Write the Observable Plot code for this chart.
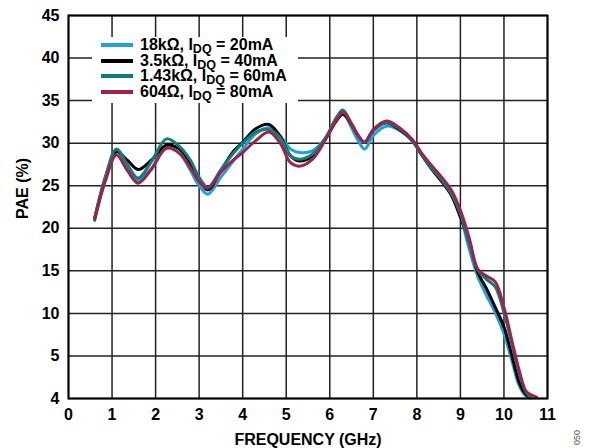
<!DOCTYPE html>
<html><head><meta charset="utf-8">
<script src="https://cdn.jsdelivr.net/npm/d3@7"></script>
<script src="https://cdn.jsdelivr.net/npm/@observablehq/plot@0.6"></script>
<style>
body{margin:0;background:#fff;font-family:"Liberation Sans",Arial,sans-serif;}
#wrap{position:relative;width:595px;height:448px;overflow:hidden;}
#legend{position:absolute;left:92px;top:37px;width:206px;height:66px;background:#fff;}
.row{position:absolute;left:0;height:16px;display:flex;align-items:center;font-weight:bold;font-size:16px;color:#000;white-space:nowrap;}
.sw{display:inline-block;width:32px;height:4px;margin-left:9px;margin-right:7px;}
.row sub{font-size:12.5px;vertical-align:-3px;line-height:0;}
#code{position:absolute;left:572px;top:445px;font-size:9px;color:#555;transform:rotate(-90deg);transform-origin:left top;}
</style>
</head><body>
<div id="wrap"><div id="chart"></div><div id="legend"></div><div id="code">050</div></div>
<script>
const seriesNames = ["18kΩ, I<sub>DQ</sub> = 20mA","3.5kΩ, I<sub>DQ</sub> = 40mA","1.43kΩ, I<sub>DQ</sub> = 60mA","604Ω, I<sub>DQ</sub> = 80mA"];
const seriesColors = ["#1ba1dc","#000000","#0b7f79","#a3204b"];
const xTicks = [0,1,2,3,4,5,6,7,8,9,10,11];
const yTicks = [0,5,10,15,20,25,30,35,40,45];
const yTickLabels = ["4","5","10","15","20","25","30","35","40","45"];
const yTitle = "PAE (%)";
const xTitle = "FREQUENCY (GHz)";
const freq = [0.6,0.85,1.1,1.35,1.6,1.9,2.25,2.55,2.8,3.0,3.2,3.5,3.8,4.0,4.3,4.6,4.85,5.1,5.3,5.6,5.9,6.15,6.3,6.5,6.65,6.8,7.0,7.3,7.6,7.9,8.1,8.35,8.6,8.8,9.0,9.2,9.4,9.6,9.8,10.0,10.2,10.35,10.5,10.6,10.75];
const pae18k = [20.9,25.8,29.2,27.2,25.6,27.0,29.6,28.8,26.8,25.0,24.0,26.0,28.0,29.3,31.1,31.8,30.9,29.3,28.9,29.1,30.6,32.8,33.6,31.8,30.3,29.3,30.9,32.0,31.5,30.2,28.7,26.9,25.5,24.0,21.5,17.6,14.3,12.1,10.1,7.6,4.1,1.5,0.3,0.05,null];
const pae3k5 = [21.1,26.0,29.0,28.0,26.9,28.0,29.8,29.3,27.6,25.8,24.5,26.8,29.1,30.1,31.7,32.2,30.9,28.5,27.9,28.5,30.5,32.6,33.4,32.2,30.9,30.1,31.5,32.4,31.6,30.3,28.7,26.9,25.3,23.8,21.3,18.5,14.8,12.9,10.7,8.4,4.7,1.9,0.5,0.1,null];
const pae1k43 = [21.2,26.1,29.3,27.5,25.9,27.8,30.5,29.6,28.0,26.0,24.8,26.9,28.9,30.0,31.3,31.6,30.7,28.5,28.1,28.7,30.6,33.0,33.9,32.3,30.9,30.1,31.5,32.4,31.7,30.3,28.7,27.0,25.5,24.0,21.7,18.2,15.1,14.0,13.1,10.1,6.0,3.0,0.8,0.2,null];
const pae604 = [21.1,25.6,28.6,26.8,25.3,26.9,29.4,28.8,27.1,25.5,24.7,26.6,28.1,28.9,30.3,31.3,30.1,27.7,27.3,28.1,30.4,32.7,33.6,32.2,30.9,30.1,31.6,32.6,31.8,30.4,28.9,27.3,25.8,24.4,22.1,18.9,15.2,14.4,13.7,10.7,6.4,3.3,0.9,0.5,0.15];

const allSeries = [pae18k, pae3k5, pae1k43, pae604];
const rows = [];
allSeries.forEach((vals, s) => {
  vals.forEach((v, i) => { if (v !== null) rows.push({freq: freq[i], pae: v, series: "s" + s}); });
});

const chart = Plot.plot({
  width: 595, height: 448,
  marginLeft: 68, marginRight: 48, marginTop: 15, marginBottom: 50,
  style: {fontFamily: "'Liberation Sans', Arial, sans-serif", fontSize: "16px", fontWeight: "bold", background: "#fff", color: "#000"},
  x: {domain: [0, 11], ticks: xTicks, tickFormat: d => String(d), label: xTitle, labelAnchor: "center", labelOffset: 46, labelArrow: false, tickSize: 0, tickPadding: 10},
  y: {domain: [0, 45], ticks: yTicks, tickFormat: d => yTickLabels[yTicks.indexOf(d)], label: null, tickSize: 0, tickPadding: 9},
  color: {domain: ["s0","s1","s2","s3"], range: seriesColors},
  marks: [
    Plot.gridX(xTicks, {stroke: "#222", strokeOpacity: 1, strokeWidth: 1.5}),
    Plot.gridY(yTicks, {stroke: "#222", strokeOpacity: 1, strokeWidth: 1.5}),
    Plot.line(rows, {x: "freq", y: "pae", z: "series", stroke: "series", strokeWidth: 3, curve: "catmull-rom"}),
    Plot.frame({stroke: "#000", strokeWidth: 2}),
    Plot.text([yTitle], {text: d => d, frameAnchor: "left", rotate: -90, dx: -46, dy: 12, fontSize: 16, fontWeight: "bold", fill: "#000"})
  ]
});
document.getElementById("chart").appendChild(chart);

const leg = document.getElementById("legend");
seriesNames.forEach((name, i) => {
  const r = document.createElement("div");
  r.className = "row";
  r.style.top = (0 + i * 15.7) + "px";
  r.innerHTML = `<span class="sw" style="background:${seriesColors[i]}"></span><span>${name}</span>`;
  leg.appendChild(r);
});
</script>
</body></html>
